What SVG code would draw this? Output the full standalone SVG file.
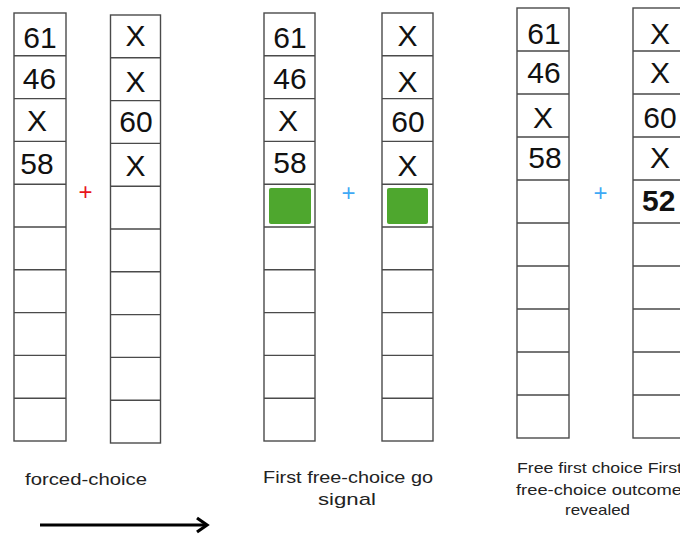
<svg xmlns="http://www.w3.org/2000/svg" width="680" height="536" viewBox="0 0 680 536">
<style>
.cell{fill:#fff;stroke:#4a4a4a;stroke-width:1.4}
.div{stroke:#4a4a4a;stroke-width:1.4}
.num{font-family:"Liberation Sans",Arial,sans-serif;font-size:30px;fill:#111;text-anchor:middle}
.bold{font-weight:bold;text-anchor:start}
.lbl{font-family:"Liberation Sans",Arial,sans-serif;font-size:17px;fill:#222}
.plus{font-family:"Liberation Sans",Arial,sans-serif;font-size:24px;text-anchor:middle}
.go{fill:#4ea72e}
</style>
<rect width="680" height="536" fill="#fff"/>
<g id="col1">
<rect class="cell" x="14" y="13" width="52" height="428"/>
<path class="div" d="M14 55.8H66M14 98.6H66M14 141.4H66M14 184.2H66M14 227H66M14 269.8H66M14 312.6H66M14 355.4H66M14 398.2H66"/>
<text class="num" x="40" y="48">61</text>
<text class="num" x="39.5" y="89">46</text>
<text class="num" x="37" y="131">X</text>
<text class="num" x="37" y="174">58</text>
</g>
<g id="col2">
<rect class="cell" x="110.5" y="15" width="50" height="428"/>
<path class="div" d="M110.5 57.8H160.5M110.5 100.6H160.5M110.5 143.4H160.5M110.5 186.2H160.5M110.5 229H160.5M110.5 271.8H160.5M110.5 314.6H160.5M110.5 357.4H160.5M110.5 400.2H160.5"/>
<text class="num" x="135.5" y="46">X</text>
<text class="num" x="135.5" y="92">X</text>
<text class="num" x="136" y="132">60</text>
<text class="num" x="135.5" y="176">X</text>
</g>
<g id="plus1"><text class="plus" x="85.5" y="200" fill="#e8141c">+</text></g>
<g id="col3">
<rect class="cell" x="264" y="13" width="51" height="428"/>
<path class="div" d="M264 55.8H315M264 98.6H315M264 141.4H315M264 184.2H315M264 227H315M264 269.8H315M264 312.6H315M264 355.4H315M264 398.2H315"/>
<text class="num" x="290" y="48">61</text>
<text class="num" x="290" y="89">46</text>
<text class="num" x="288" y="131">X</text>
<text class="num" x="290" y="173">58</text>
<rect class="go" x="269" y="188" width="42" height="36" rx="2"/>
</g>
<g id="plus2"><text class="plus" x="348.5" y="201" fill="#3fa9f5">+</text></g>
<g id="col4">
<rect class="cell" x="382" y="13" width="51" height="428"/>
<path class="div" d="M382 55.8H433M382 98.6H433M382 141.4H433M382 184.2H433M382 227H433M382 269.8H433M382 312.6H433M382 355.4H433M382 398.2H433"/>
<text class="num" x="407.5" y="46">X</text>
<text class="num" x="407.5" y="92">X</text>
<text class="num" x="408" y="132">60</text>
<text class="num" x="407.5" y="176">X</text>
<rect class="go" x="387" y="188" width="41" height="36" rx="2"/>
</g>
<g id="col5">
<rect class="cell" x="517" y="8" width="52" height="430"/>
<path class="div" d="M517 51H569M517 94H569M517 137H569M517 180H569M517 223H569M517 266H569M517 309H569M517 352H569M517 395H569"/>
<text class="num" x="544" y="44">61</text>
<text class="num" x="544" y="83">46</text>
<text class="num" x="543" y="128">X</text>
<text class="num" x="545" y="168">58</text>
</g>
<g id="plus3"><text class="plus" x="600.5" y="201" fill="#3fa9f5">+</text></g>
<g id="col6">
<rect class="cell" x="633" y="8" width="52" height="430"/>
<path class="div" d="M633 51H685M633 94H685M633 137H685M633 180H685M633 223H685M633 266H685M633 309H685M633 352H685M633 395H685"/>
<text class="num" x="660" y="44">X</text>
<text class="num" x="660" y="83">X</text>
<text class="num" x="660" y="128">60</text>
<text class="num" x="660" y="168">X</text>
<text class="num bold" x="642" y="211">52</text>
</g>
<g id="label1"><text class="lbl" x="25" y="485" textLength="122" lengthAdjust="spacingAndGlyphs">forced-choice</text></g>
<g id="label2">
<text class="lbl" x="263" y="483" textLength="170" lengthAdjust="spacingAndGlyphs">First free-choice go</text>
<text class="lbl" x="318" y="505" textLength="58" lengthAdjust="spacingAndGlyphs">signal</text>
</g>
<g id="label3">
<text class="lbl" x="517" y="473" textLength="165" lengthAdjust="spacingAndGlyphs" style="font-size:15px">Free first choice First</text>
<text class="lbl" x="516" y="495" textLength="166" lengthAdjust="spacingAndGlyphs" style="font-size:15px">free-choice outcome</text>
<text class="lbl" x="565" y="515" textLength="65" lengthAdjust="spacingAndGlyphs" style="font-size:15px">revealed</text>
</g>
<g id="connectors">
<path d="M40 525H206" stroke="#000" stroke-width="3.2" fill="none"/>
<path d="M197 518L207 525L197 532" stroke="#000" stroke-width="3.2" fill="none" stroke-linejoin="miter"/>
</g>
</svg>
